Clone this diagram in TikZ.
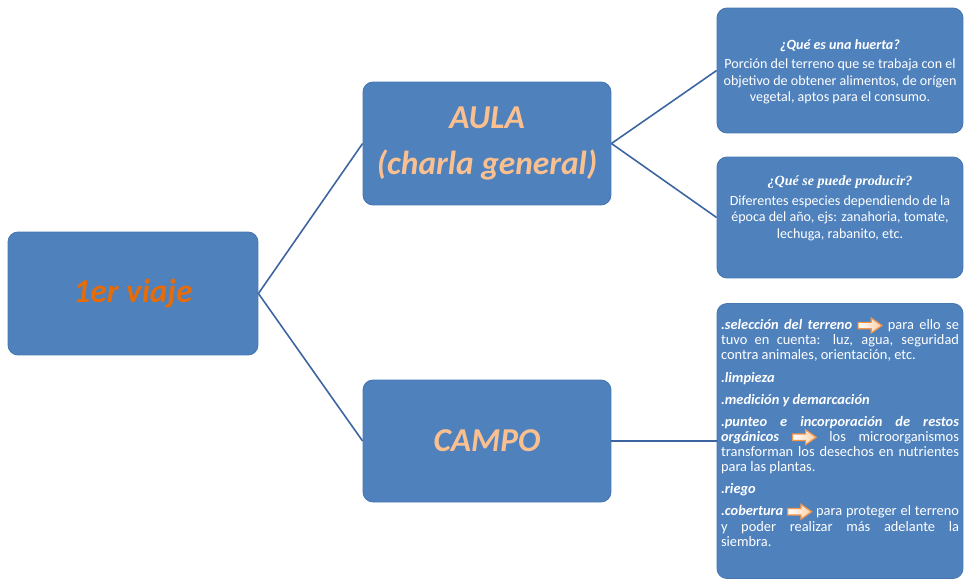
\documentclass[tikz,border=0pt]{standalone}
\usepackage{fontspec}
\setmainfont{Carlito}
\newfontfamily\serifbi{Liberation Serif}
\definecolor{azul}{HTML}{4F81BD}
\definecolor{borde}{HTML}{4677B0}
\definecolor{linea}{HTML}{3C64A0}
\definecolor{durazno}{HTML}{FAC090}
\definecolor{naranja}{HTML}{E46C0A}
\definecolor{flechaborde}{HTML}{F79646}
\newcommand{\flecha}{\tikz[baseline={(0,-2.4pt)},x=1pt,y=1pt,sharp corners]{\draw[flechaborde,line width=0.7pt,left color=white,right color=flechaborde!45] (0,-1.8) -- (7.5,-1.8) -- (7.5,-4.2) -- (13.5,0) -- (7.5,4.2) -- (7.5,1.8) -- (0,1.8) -- cycle;}}
\newcommand{\negrita}[1]{\textbf{\textit{#1}}}
\begin{document}
\begin{tikzpicture}[x=0.02cm,y=-0.02cm,
    caja/.style={draw=borde,fill=azul,line width=0.5pt,rounded corners=0.2cm,inner sep=0pt},
    titulo/.style={caja,text=durazno,font=\fontsize{19}{26}\selectfont\bfseries\itshape,align=center},
    info/.style={caja,text=white,minimum width=4.92cm,font=\fontsize{8}{9.4}\selectfont},
    conector/.style={draw=linea,line width=0.9pt}]
  \useasboundingbox (0,0) rectangle (969,579);
  \node[titulo,text=naranja,minimum width=5cm,minimum height=2.46cm] (viaje) at (133,293.5) {1er viaje};
  \node[titulo,minimum width=4.96cm,minimum height=2.46cm] (aula) at (487,143.5) {AULA\\(charla general)};
  \node[titulo,minimum width=4.96cm,minimum height=2.44cm] (campo) at (487,441) {CAMPO};
  \node[info,minimum height=2.5cm] (huerta) at (840,70.5) {\parbox[c][1.24cm][t]{4.9cm}{\centering
      \negrita{¿Qué es una huerta?}\par\vspace{1.6pt}
      Porción del terreno que se trabaja con el\\
      objetivo de obtener alimentos, de orígen\\
      vegetal, aptos para el consumo.}};
  \node[info,minimum height=2.42cm] (producir) at (840,217.5) {\parbox[c][1.66cm][t]{4.9cm}{\centering
      {\serifbi\bfseries\itshape ¿Qué se puede producir?}\par\vspace{1.6pt}
      Diferentes especies dependiendo de la\\
      época del año, ejs: zanahoria, tomate,\\
      lechuga, rabanito, etc.}};
  \node[info,minimum height=5.5cm,font=\fontsize{8.2}{8.6}\selectfont] (tareas) at (840,441) {\parbox[c][4.94cm][t]{4.76cm}{\setlength{\parskip}{4pt}%
      \negrita{.selección del terreno} \flecha{} para ello se\linebreak
      tuvo en cuenta: luz, agua, seguridad\linebreak
      contra animales, orientación, etc.\par
      \negrita{.limpieza}\par
      \negrita{.medición y demarcación}\par
      \negrita{.punteo e incorporación de restos\linebreak
      orgánicos} \flecha{} los microorganismos\linebreak
      transforman los desechos en nutrientes\linebreak
      para las plantas.\par
      \negrita{.riego}\par
      \negrita{.cobertura} \flecha{} para proteger el terreno\linebreak
      y poder realizar más adelante la\linebreak
      siembra.}};
  \draw[conector] (viaje.east) -- (aula.west);
  \draw[conector] (viaje.east) -- (campo.west);
  \draw[conector] (aula.east) -- (huerta.west);
  \draw[conector] (aula.east) -- (producir.west);
  \draw[conector] (campo.east) -- (tareas.west);
\end{tikzpicture}
\end{document}
